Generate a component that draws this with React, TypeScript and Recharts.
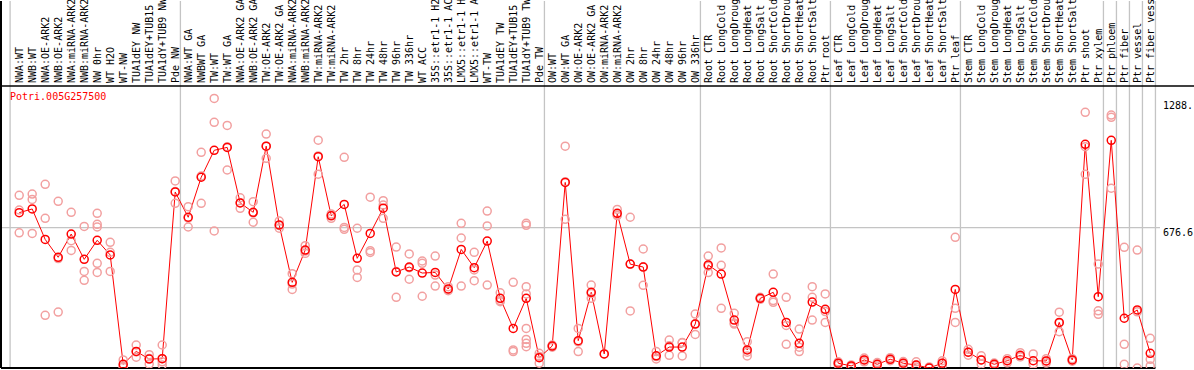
import { ComposedChart, Line, Scatter, XAxis, YAxis, ReferenceLine } from "recharts";

const geneName = "Potri.005G257500";

const categories = [
  "NWA:WT", "NWB:WT", "NWA:OE-ARK2", "NWB:OE-ARK2", "NWA:miRNA-ARK2", "NWB:miRNA-ARK2",
  "NW 0hr", "WT H2O", "WT-NW", "TUA1dEY NW", "TUA1dEY+TUB15 NW", "TUA1dY+TUB9 NW", "Pde NW",
  "NWA:WT GA", "NWBWT GA", "TW:WT", "TW:WT GA", "NWA:OE-ARK2 GA", "NWB:OE-ARK2 GA",
  "TW:OE-ARK2", "TW:OE-ARK2 GA", "NWA:miRNA-ARK2 GA", "NWB:miRNA-ARK2 GA", "TW:miRNA-ARK2",
  "TW:miRNA-ARK2 GA", "TW 2hr", "TW 8hr", "TW 24hr", "TW 48hr", "TW 96hr", "TW 336hr",
  "WT ACC", "35S::etr1-1 H2O", "35S::etr1-1 ACC", "LMX5::etr1-1 H2O", "LMX5::etr1-1 ACC",
  "WT-TW", "TUA1dEY TW", "TUA1dEY+TUB15 TW", "TUA1dY+TUB9 TW", "Pde TW",
  "OW:WT", "OW:WT GA", "OW:OE-ARK2", "OW:OE-ARK2 GA", "OW:miRNA-ARK2", "OW:miRNA-ARK2 GA",
  "OW 2hr", "OW 8hr", "OW 24hr", "OW 48hr", "OW 96hr", "OW 336hr",
  "Root CTR", "Root LongCold", "Root LongDrought", "Root LongHeat", "Root LongSalt",
  "Root ShortCold", "Root ShortDrought", "Root ShortHeat", "Root ShortSalt", "Ptr root",
  "Leaf CTR", "Leaf LongCold", "Leaf LongDrought", "Leaf LongHeat", "Leaf LongSalt",
  "Leaf ShortCold", "Leaf ShortDrought", "Leaf ShortHeat", "Leaf ShortSalt", "Ptr leaf",
  "Stem CTR", "Stem LongCold", "Stem LongDrought", "Stem LongHeat", "Stem LongSalt",
  "Stem ShortCold", "Stem ShortDrought", "Stem ShortHeat", "Stem ShortSalt", "Ptr shoot",
  "Ptr xylem", "Ptr phloem", "Ptr fiber", "Ptr vessel", "Ptr fiber vessel",
];

const means = [
  749, 767, 620, 534, 646, 524, 616, 545, 18, 80, 43, 45, 849,
  727, 920, 1050, 1064, 796, 751, 1070, 690, 413, 569, 1019, 734, 789, 529, 649, 771,
  463, 487, 458, 461, 381, 572, 484, 612, 336, 191, 336, 50,
  106, 895, 132, 365, 68, 746, 501, 487, 59, 101, 101, 212,
  497, 453, 231, 87, 336, 365, 220, 119, 318, 283,
  23, 10, 39, 18, 42, 23, 14, 0, 23, 379,
  76, 39, 18, 35, 61, 35, 34, 220, 39, 1079,
  344, 1098, 240, 280, 71,
];

const replicates = [
  [833, 652, 762], [839, 813, 649], [886, 722, 254], [804, 270, 528], [751, 614, 567],
  [683, 466, 423], [746, 693, 680, 505, 461], [606, 558, 466], [39, 10, 5], [111, 52, 78],
  [64, 19, 46], [111, 45, 30, 14], [902, 794, 851],
  [778, 680, 723], [1040, 794, 926], [1300, 1185, 661], [1170, 955, 1067], [821, 770, 797],
  [802, 703, 748], [1128, 1011, 1070], [709, 674, 687], [455, 379, 405], [590, 553, 564],
  [1099, 935, 1023], [743, 722, 737], [1016, 678, 669], [674, 473, 437], [824, 566, 557],
  [807, 786, 722], [583, 341, 465], [550, 428, 484], [516, 505, 346], [540, 395, 448],
  [392, 373, 378], [698, 627, 395], [558, 473, 421], [757, 685, 400], [363, 325, 320],
  [413, 87, 79], [698, 688, 392, 357, 191, 138, 119, 103], [71, 23, 56],
  [111, 100, 106], [1070, 717, 898], [191, 79, 126], [400, 336, 359], [68],
  [765, 738, 735], [727, 275, 501], [574, 399, 488], [79, 55, 44], [135, 61, 107],
  [122, 58, 123], [260, 162, 214],
  [540, 460, 491], [579, 495, 288], [264, 212, 217], [127, 58, 76], [341, 331, 336],
  [453, 325, 317], [341, 114, 205], [188, 100, 79], [392, 341, 231], [357, 220, 272],
  [23, 15, 30], [10, 5, 15], [39, 30, 48], [18, 10, 26], [42, 50, 35],
  [23, 15, 31], [14, 30, 5], [0, 5], [23, 35, 12], [630, 288, 220],
  [90, 76, 62], [59, 19, 39], [18, 12, 24], [35, 45, 25], [74, 55, 54],
  [68, 19, 18], [34, 45, 24], [269, 175, 217], [39, 45, 33], [1233, 1067, 934],
  [501, 276, 259], [1220, 1209, 867], [582, 114, 18], [569, 0, 271], [143, 42, 10],
];

// group separators sit just after the last sample of each group
const groupBreaks = [-0.7, 12.4, 40.4, 52.4, 62.4, 72.4, 83.4, 84.4, 85.4, 86.4, 87.4];

const yTicks = [0, 676.6, 1288];
const yTickLabels = ["0", "676.6", "1288."];

const lineData = means.map((v, i) => ({ idx: i, v }));
const repData = replicates.flatMap((vals, i) => vals.map((v) => ({ idx: i, v })));

const MONO = "DejaVu Sans Mono";
const X_MIN = -1.4;
const X_MAX = 87.75;
const Y_MAX = 1770;
const BAND_LINE = 1360;

function TopLabel({ x, payload }: any) {
  const by = 83;
  return (
    <text
      x={x}
      y={by}
      transform={`rotate(-90 ${x} ${by})`}
      textAnchor="start"
      dominantBaseline="central"
      fontFamily={MONO}
      fontSize={10}
      fill="#000"
    >
      {categories[payload.value]}
    </text>
  );
}

function RightTick({ x, y, payload }: any) {
  const label = yTickLabels[yTicks.indexOf(payload.value)];
  return (
    <text x={x} y={Math.min(y + 8, 366)} textAnchor="start" fontFamily={MONO} fontSize={10} fill="#000">
      {label}
    </text>
  );
}

const RepDot = (p: any) => (
  <circle cx={p.cx} cy={p.cy} r={4} fill="none" stroke="#f2a0a0" strokeWidth={1.5} />
);

export default function App() {
  return (
    <div style={{ position: "absolute", left: 0, top: 0, width: 1194, height: 370, background: "#fff" }}>
      <ComposedChart width={1194} height={370} margin={{ top: 0, right: 0, bottom: 2, left: 1 }}>
        <XAxis
          type="number"
          dataKey="idx"
          orientation="top"
          domain={[X_MIN, X_MAX]}
          ticks={categories.map((_, i) => i)}
          interval={0}
          height={1}
          axisLine={false}
          tickLine={false}
          tick={<TopLabel />}
        />
        <YAxis
          orientation="right"
          width={34}
          domain={[0, Y_MAX]}
          ticks={yTicks}
          axisLine={false}
          tickLine={false}
          tickSize={0}
          tickMargin={3}
          tick={<RightTick />}
          allowDataOverflow
        />
        {groupBreaks.map((b) => (
          <ReferenceLine key={b} x={b} stroke="#c4c4c4" strokeWidth={1.3} />
        ))}
        <ReferenceLine y={676.6} stroke="#c4c4c4" strokeWidth={1.3} />
        <ReferenceLine
          segment={[{ x: X_MIN, y: BAND_LINE }, { x: 90.4, y: BAND_LINE }]}
          stroke="#000"
          strokeWidth={1.5}
          ifOverflow="visible"
        />
        <ReferenceLine
          segment={[{ x: X_MIN, y: 0 }, { x: 87.4, y: 0 }]}
          stroke="#000"
          strokeWidth={2}
          ifOverflow="visible"
        />
        <ReferenceLine x={X_MIN} stroke="#000" strokeWidth={2} />
        <Scatter data={repData} dataKey="v" shape={RepDot} isAnimationActive={false} />
        <Line
          data={lineData}
          dataKey="v"
          stroke="#ff0000"
          strokeWidth={1}
          dot={{ r: 4, stroke: "#ff0000", strokeWidth: 1.5, fill: "none" }}
          activeDot={false}
          isAnimationActive={false}
        />
      </ComposedChart>
      <div
        style={{
          position: "absolute",
          left: 10,
          top: 92,
          fontFamily: MONO,
          fontSize: 10,
          lineHeight: "10px",
          color: "#ff0000",
        }}
      >
        {geneName}
      </div>
    </div>
  );
}
